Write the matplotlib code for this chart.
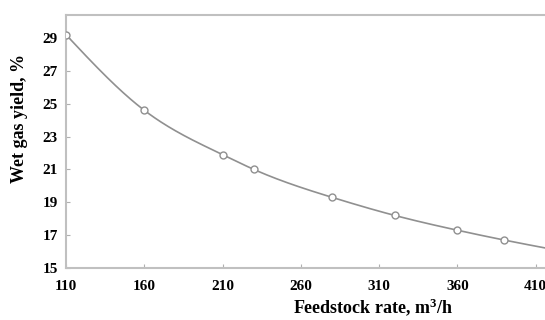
import numpy as np
import matplotlib
matplotlib.use("Agg")
import matplotlib.pyplot as plt

feed_rate = [110, 160, 210, 230, 280, 320, 360, 390]
wet_gas_yield = [29.2, 24.6, 21.9, 21.0, 19.3, 18.2, 17.3, 16.7]
# curve continues past the right edge of the plot
curve_x = feed_rate + [420]
curve_y = wet_gas_yield + [16.15]
x_ticks = [110, 160, 210, 260, 310, 360, 410]
y_ticks = [15, 17, 19, 21, 23, 25, 27, 29]

def natural_spline(x, y, xs):
    x = np.asarray(x, float); y = np.asarray(y, float)
    n = len(x)
    h = np.diff(x)
    A = np.zeros((n, n)); b = np.zeros(n)
    A[0, 0] = 1; A[-1, -1] = 1
    for i in range(1, n - 1):
        A[i, i - 1] = h[i - 1]
        A[i, i] = 2 * (h[i - 1] + h[i])
        A[i, i + 1] = h[i]
        b[i] = 3 * ((y[i + 1] - y[i]) / h[i] - (y[i] - y[i - 1]) / h[i - 1])
    c = np.linalg.solve(A, b)
    out = np.empty_like(xs)
    for k, xv in enumerate(xs):
        i = min(max(np.searchsorted(x, xv) - 1, 0), n - 2)
        dx = xv - x[i]
        bi = (y[i + 1] - y[i]) / h[i] - h[i] * (2 * c[i] + c[i + 1]) / 3
        di = (c[i + 1] - c[i]) / (3 * h[i])
        out[k] = y[i] + bi * dx + c[i] * dx ** 2 + di * dx ** 3
    return out

plt.rcParams['font.family'] = ['Liberation Serif', 'DejaVu Serif']
plt.rcParams['mathtext.fontset'] = 'custom'
plt.rcParams['mathtext.rm'] = 'Liberation Serif:bold'
plt.rcParams['mathtext.bf'] = 'Liberation Serif:bold'
plt.rcParams['mathtext.it'] = 'Liberation Serif:bold'

fig = plt.figure(figsize=(5.45, 3.2), dpi=100)
ax = fig.add_axes([66 / 545, 52 / 320, 1 - 66 / 545, 253 / 320])

xs = np.linspace(curve_x[0], curve_x[-1], 400)
ax.plot(xs, natural_spline(curve_x, curve_y, xs), color='#909090', lw=1.2, zorder=2)
ax.plot(feed_rate, wet_gas_yield, ls='none', marker='o', ms=5,
        mfc='white', mec='#909090', mew=1.0, zorder=3)

ax.set_xlim(110, 416)
ax.set_ylim(15, 30.4)
ax.set_xticks(x_ticks)
ax.set_yticks(y_ticks)
ax.set_xticklabels([str(v) for v in x_ticks], fontweight='bold', fontsize=11)
ax.set_yticklabels([str(v) for v in y_ticks], fontweight='bold', fontsize=11)
ax.tick_params(axis='x', direction='in', length=3, color='#b0b0b0', pad=9)
ax.tick_params(axis='y', direction='in', length=3, color='#b0b0b0', pad=6)

for s in ['left', 'bottom', 'top']:
    ax.spines[s].set_color('#c0c0c0')
    ax.spines[s].set_linewidth(1.5)
ax.spines['right'].set_visible(False)

fig.text(373 / 545, 1 - 307 / 320, 'Feedstock rate, m$^{3}$/h',
         ha='center', va='center', fontweight='bold', fontsize=13)
fig.text(20 / 545, 1 - 118 / 320, 'Wet gas yield, %', rotation=90,
         ha='center', va='center', fontweight='bold', fontsize=13)

fig.savefig('out.png', dpi=100)
